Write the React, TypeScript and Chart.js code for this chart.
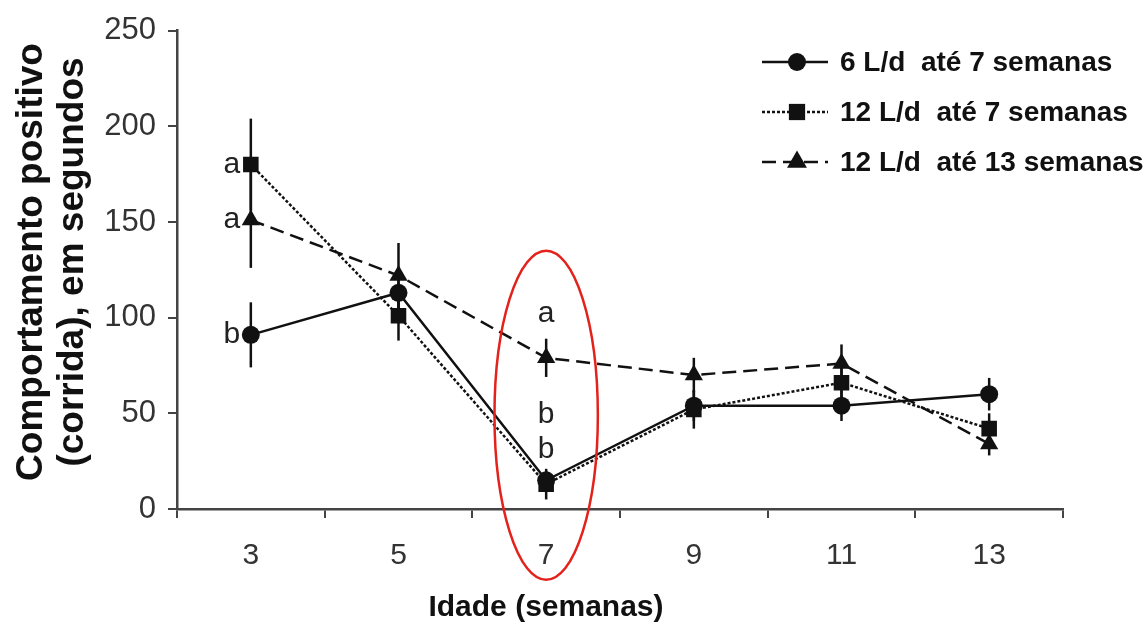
import React, { useEffect, useRef } from 'react';
import { Chart, registerables } from 'chart.js';

Chart.register(...registerables);

// ---- data ----
const weeks = ['3', '5', '7', '9', '11', '13'];
const s1Values = [91, 113, 15, 54, 54, 60];
const s1Errors = [17, 10, 5, 8, 8, 8.5];
const s2Values = [180, 101, 13, 52, 66, 42];
const s2Errors = [24, 13, 8, 10, 8, 8];
const s3Values = [151, 122, 79, 70, 76, 34];
const s3Errors = [25, 17, 10, 9, 10, 6];
const seriesLabels = ['6 L/d  até 7 semanas', '12 L/d  até 7 semanas', '12 L/d  até 13 semanas'];
const yTickValues = [0, 50, 100, 150, 200, 250];
const letterCats = ['3', '3', '3', '7', '7', '7'];
const letterValues = [180, 151, 91, 102, 49, 31];
const letterTexts = ['a', 'a', 'b', 'a', 'b', 'b'];
const ellipseCat = '7';
const ellipseTop = 135;
const ellipseBottom = -37;
const xTitle = 'Idade (semanas)';
const yTitle = ['Comportamento positivo', '(corrida), em segundos'];

const FONT = '"Liberation Sans", Arial, Helvetica, sans-serif';
const INK = '#111';

const styles = [
  { dash: [] as number[], point: 'circle', radius: 9 },
  { dash: [3, 2], point: 'rect', radius: 11 },
  { dash: [14, 7], point: 'triangle', radius: 10.5 },
];
const errorSets = [s1Errors, s2Errors, s3Errors];

function marker(ctx: CanvasRenderingContext2D, kind: string, x: number, y: number, r: number) {
  ctx.save();
  ctx.fillStyle = INK;
  ctx.setLineDash([]);
  ctx.beginPath();
  if (kind === 'circle') {
    ctx.arc(x, y, r, 0, Math.PI * 2);
  } else if (kind === 'rect') {
    const s = r * Math.SQRT1_2;
    ctx.rect(x - s, y - s, 2 * s, 2 * s);
  } else {
    ctx.moveTo(x, y - r);
    ctx.lineTo(x + r * 0.866, y + r * 0.5);
    ctx.lineTo(x - r * 0.866, y + r * 0.5);
    ctx.closePath();
  }
  ctx.fill();
  ctx.restore();
}

const overlay = {
  id: 'overlay',
  beforeDatasetsDraw(chart: any) {
    const ctx = chart.ctx as CanvasRenderingContext2D;
    const xs = chart.scales.x;
    const ys = chart.scales.y;
    ctx.save();
    ctx.strokeStyle = INK;
    ctx.lineWidth = 2.5;
    chart.data.datasets.forEach((ds: any, i: number) => {
      ds.data.forEach((v: number, j: number) => {
        const e = errorSets[i][j];
        const x = xs.getPixelForValue(j);
        ctx.beginPath();
        ctx.moveTo(x, ys.getPixelForValue(v + e));
        ctx.lineTo(x, ys.getPixelForValue(v - e));
        ctx.stroke();
      });
    });
    ctx.restore();
  },
  afterDatasetsDraw(chart: any) {
    const ctx = chart.ctx as CanvasRenderingContext2D;
    const xs = chart.scales.x;
    const ys = chart.scales.y;
    // significance letters
    ctx.save();
    ctx.fillStyle = '#222';
    ctx.font = `30px ${FONT}`;
    ctx.textAlign = 'center';
    ctx.textBaseline = 'middle';
    letterTexts.forEach((t, k) => {
      const idx = weeks.indexOf(letterCats[k]);
      const dx = letterCats[k] === '3' ? -19 : 0;
      ctx.fillText(t, xs.getPixelForValue(idx) + dx, ys.getPixelForValue(letterValues[k]));
    });
    ctx.restore();
    // red ellipse
    const ci = weeks.indexOf(ellipseCat);
    const cx = xs.getPixelForValue(ci);
    const step = xs.getPixelForValue(1) - xs.getPixelForValue(0);
    const yT = ys.getPixelForValue(ellipseTop);
    const yB = ys.getPixelForValue(ellipseBottom);
    ctx.save();
    ctx.strokeStyle = '#e3221b';
    ctx.lineWidth = 2.5;
    ctx.beginPath();
    ctx.ellipse(cx, (yT + yB) / 2, step * 0.35, (yB - yT) / 2, 0, 0, Math.PI * 2);
    ctx.stroke();
    ctx.restore();
  },
  afterDraw(chart: any) {
    const ctx = chart.ctx as CanvasRenderingContext2D;
    // legend
    ctx.save();
    seriesLabels.forEach((label, i) => {
      const y = 62 + i * 50;
      ctx.strokeStyle = INK;
      ctx.lineWidth = 2.5;
      ctx.setLineDash(styles[i].dash);
      ctx.beginPath();
      ctx.moveTo(762, y);
      ctx.lineTo(828, y);
      ctx.stroke();
      ctx.setLineDash([]);
      marker(ctx, styles[i].point, 797, y, styles[i].point === 'circle' ? 9 : 11.5);
      ctx.fillStyle = INK;
      ctx.font = `bold 28px ${FONT}`;
      ctx.textAlign = 'left';
      ctx.textBaseline = 'middle';
      ctx.fillText(label, 840, y + 1);
    });
    // axis titles
    ctx.fillStyle = INK;
    ctx.font = `bold 30px ${FONT}`;
    ctx.textAlign = 'center';
    ctx.textBaseline = 'alphabetic';
    ctx.fillText(xTitle, 546, 616);
    ctx.translate(0, 262);
    ctx.rotate(-Math.PI / 2);
    ctx.font = `bold 37px ${FONT}`;
    ctx.textBaseline = 'middle';
    ctx.fillText(yTitle[0], 0, 32);
    ctx.fillText(yTitle[1], 0, 73);
    ctx.restore();
  },
};

export default function App() {
  const ref = useRef<HTMLCanvasElement | null>(null);
  useEffect(() => {
    if (!ref.current) return;
    const seriesValues = [s1Values, s2Values, s3Values];
    const chart = new Chart(ref.current, {
      type: 'line',
      data: {
        labels: weeks,
        datasets: seriesValues.map((vals, i) => ({
          label: seriesLabels[i],
          data: vals,
          borderColor: INK,
          backgroundColor: INK,
          borderWidth: 2.5,
          borderDash: styles[i].dash,
          pointStyle: styles[i].point as any,
          pointRadius: styles[i].radius,
          pointBackgroundColor: INK,
          pointBorderColor: INK,
          pointBorderWidth: 0,
          tension: 0,
          fill: false,
        })),
      },
      options: {
        animation: false,
        responsive: true,
        maintainAspectRatio: false,
        layout: { padding: { left: 0, top: 25, right: 85, bottom: 0 } },
        plugins: { legend: { display: false }, tooltip: { enabled: false } },
        scales: {
          x: {
            type: 'category',
            offset: true,
            grid: { display: true, offset: true, drawOnChartArea: false, tickLength: 9, color: '#444', lineWidth: 2 },
            border: { display: true, color: '#444', width: 2.5 },
            ticks: { color: '#333', font: { family: FONT, size: 30 }, padding: 20 },
            afterFit: (s: any) => { s.height = 115; },
          },
          y: {
            min: 0,
            max: 250,
            afterBuildTicks: (s: any) => { s.ticks = yTickValues.map((v) => ({ value: v })); },
            grid: { display: true, drawOnChartArea: false, tickLength: 9, color: '#444', lineWidth: 2 },
            border: { display: true, color: '#444', width: 2.5 },
            ticks: { color: '#333', font: { family: FONT, size: 31 }, padding: 12 },
            afterFit: (s: any) => { s.width = 177; },
          },
        },
      },
      plugins: [overlay],
    });
    return () => chart.destroy();
  }, []);
  return (
    <div style={{ position: 'absolute', left: 0, top: 0, width: 1148, height: 624, background: '#fff' }}>
      <canvas ref={ref} />
    </div>
  );
}
